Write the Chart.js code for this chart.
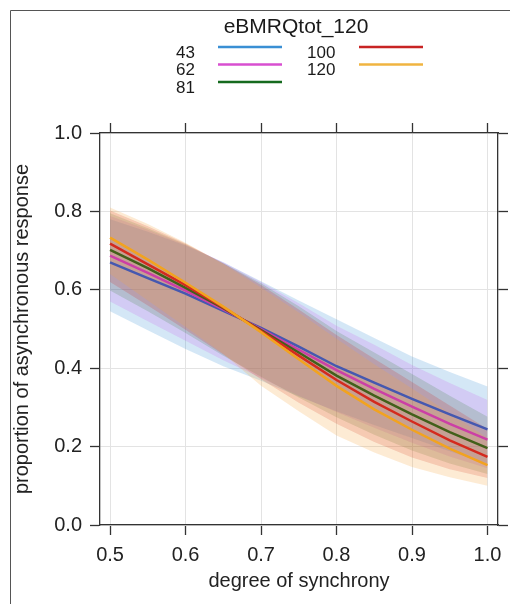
<!DOCTYPE html>
<html lang="en">
<head>
<meta charset="UTF-8">
<title>eBMRQtot_120 effect plot</title>
<script src="https://cdn.jsdelivr.net/npm/chart.js"></script>
<style>
  html, body { margin: 0; padding: 0; background: #fff; overflow: hidden; }
  #wrap { position: relative; width: 510px; height: 604px; }
</style>
</head>
<body>
<div id="wrap"><canvas id="effectChart" width="510" height="604"></canvas></div>
<script>
// degree of synchrony (x) and the fitted proportion for each eBMRQtot_120 level
const synchrony = [0.5, 0.55, 0.6, 0.65, 0.7, 0.75, 0.8, 0.85, 0.9, 0.95, 1.0];
const groups = ['43', '62', '81', '100', '120'];

const fit43 = [0.670, 0.630, 0.590, 0.546, 0.503, 0.455, 0.405, 0.363, 0.322, 0.282, 0.244];
const lo43  = [0.545, 0.497, 0.449, 0.405, 0.368, 0.328, 0.290, 0.255, 0.222, 0.188, 0.157];
const hi43  = [0.780, 0.748, 0.713, 0.670, 0.622, 0.573, 0.525, 0.477, 0.430, 0.390, 0.353];

const fit62 = [0.687, 0.643, 0.598, 0.550, 0.500, 0.447, 0.395, 0.347, 0.302, 0.258, 0.218];
const lo62  = [0.570, 0.520, 0.470, 0.420, 0.375, 0.330, 0.288, 0.248, 0.210, 0.175, 0.145];
const hi62  = [0.788, 0.753, 0.715, 0.670, 0.620, 0.566, 0.508, 0.460, 0.408, 0.362, 0.319];

const fit81 = [0.702, 0.655, 0.605, 0.553, 0.497, 0.440, 0.381, 0.330, 0.282, 0.237, 0.196];
const lo81  = [0.598, 0.545, 0.490, 0.432, 0.378, 0.325, 0.275, 0.230, 0.190, 0.157, 0.130];
const hi81  = [0.795, 0.757, 0.716, 0.668, 0.617, 0.558, 0.495, 0.440, 0.385, 0.330, 0.276];

const fit100 = [0.718, 0.665, 0.612, 0.555, 0.495, 0.432, 0.370, 0.314, 0.264, 0.216, 0.174];
const lo100  = [0.620, 0.560, 0.498, 0.435, 0.372, 0.312, 0.258, 0.212, 0.172, 0.142, 0.120];
const hi100  = [0.802, 0.762, 0.718, 0.668, 0.612, 0.550, 0.485, 0.424, 0.365, 0.305, 0.245];

const fit120 = [0.733, 0.677, 0.618, 0.557, 0.492, 0.423, 0.355, 0.295, 0.243, 0.195, 0.153];
const lo120  = [0.640, 0.573, 0.505, 0.437, 0.355, 0.290, 0.228, 0.185, 0.148, 0.122, 0.100];
const hi120  = [0.810, 0.768, 0.720, 0.666, 0.606, 0.542, 0.475, 0.410, 0.348, 0.285, 0.222];

const xTicks = [0.5, 0.6, 0.7, 0.8, 0.9, 1.0];
const yTicks = [0.0, 0.2, 0.4, 0.6, 0.8, 1.0];

const fits = [fit43, fit62, fit81, fit100, fit120];
const lows = [lo43, lo62, lo81, lo100, lo120];
const highs = [hi43, hi62, hi81, hi100, hi120];

// key colours, line colours as they show over the bands, band fills
const keyColors  = ['#3a8fd4', '#d84fd0', '#156a1e', '#c82323', '#f0b440'];
const lineColors = ['#4558b0', '#cc3fa6', '#42601a', '#d42a1e', '#f2a31f'];
const bandColors = ['rgba(58,144,212,0.22)', 'rgba(200,90,235,0.2)', 'rgba(40,120,40,0.18)',
                    'rgba(205,40,35,0.2)', 'rgba(245,165,60,0.22)'];

const FONT = '"Liberation Sans", Arial, sans-serif';

const toPoints = arr => synchrony.map((x, i) => ({ x: x, y: arr[i] }));

const datasets = [];
groups.forEach((g, i) => {
    datasets.push({
        label: g + ' lower',
        data: toPoints(lows[i]),
        borderWidth: 0,
        borderColor: 'rgba(0,0,0,0)',
        pointRadius: 0,
        fill: false,
        order: 20 - 2 * i
    });
    datasets.push({
        label: g + ' upper',
        data: toPoints(highs[i]),
        borderWidth: 0,
        borderColor: 'rgba(0,0,0,0)',
        backgroundColor: bandColors[i],
        pointRadius: 0,
        fill: '-1',
        order: 19 - 2 * i
    });
});
groups.forEach((g, i) => {
    datasets.push({
        label: g,
        data: toPoints(fits[i]),
        borderColor: lineColors[i],
        borderWidth: 2.5,
        pointRadius: 0,
        fill: false,
        tension: 0,
        order: -i
    });
});

// group key at the top and the outer frame
const groupKey = {
    id: 'groupKey',
    afterDraw(chart) {
        const ctx = chart.ctx;
        ctx.save();
        ctx.strokeStyle = '#555';
        ctx.lineWidth = 1;
        ctx.beginPath();
        ctx.moveTo(10.5, 604);
        ctx.lineTo(10.5, 10.5);
        ctx.lineTo(510, 10.5);
        ctx.stroke();

        ctx.fillStyle = '#1a1a1a';
        ctx.textAlign = 'center';
        ctx.textBaseline = 'alphabetic';
        ctx.font = '21px ' + FONT;
        ctx.fillText('eBMRQtot_120', 296, 33);

        ctx.font = '17px ' + FONT;
        ctx.textAlign = 'left';
        groups.forEach((g, i) => {
            const col = Math.floor(i / 3);
            const row = i % 3;
            const tx = col ? 307 : 176;
            const lx = col ? 359 : 218;
            ctx.fillStyle = '#1a1a1a';
            ctx.fillText(g, tx, 57.5 + row * 17.5);
            ctx.strokeStyle = keyColors[i];
            ctx.lineWidth = 2.5;
            ctx.beginPath();
            ctx.moveTo(lx, 47 + row * 17.5);
            ctx.lineTo(lx + 64, 47 + row * 17.5);
            ctx.stroke();
        });
        ctx.restore();
    }
};

const axisLine = { display: true, color: '#333', width: 1.3 };
const tickFont = { family: FONT, size: 20 };
const titleFont = { family: FONT, size: 20 };

const ctx = document.getElementById('effectChart').getContext('2d');
new Chart(ctx, {
    type: 'line',
    data: { datasets: datasets },
    plugins: [groupKey],
    options: {
        responsive: false,
        animation: false,
        devicePixelRatio: 1,
        layout: { padding: 0 },
        plugins: {
            legend: { display: false },
            tooltip: { enabled: false },
            filler: { propagate: false }
        },
        scales: {
            x: {
                type: 'linear',
                position: 'bottom',
                min: 0.4867,
                max: 1.0139,
                afterBuildTicks: s => { s.ticks = xTicks.map(v => ({ value: v })); },
                afterFit: s => { s.height = 79; },
                ticks: { callback: v => v.toFixed(1), font: tickFont, color: '#222', padding: 8, maxRotation: 0, autoSkip: false },
                grid: { color: '#e3e3e3', lineWidth: 1, tickLength: 10, tickColor: '#333', tickWidth: 1.3 },
                border: axisLine,
                title: { display: true, text: 'degree of synchrony', font: titleFont, color: '#222', padding: { top: 0, bottom: 11 } }
            },
            xTop: {
                type: 'linear',
                position: 'top',
                min: 0.4867,
                max: 1.0139,
                afterBuildTicks: s => { s.ticks = xTicks.map(v => ({ value: v })); },
                afterFit: s => { s.height = 133; },
                ticks: { display: false },
                grid: { drawOnChartArea: false, tickLength: 10, tickColor: '#333', tickWidth: 1.3 },
                border: axisLine
            },
            y: {
                type: 'linear',
                position: 'left',
                min: 0,
                max: 1,
                afterBuildTicks: s => { s.ticks = yTicks.map(v => ({ value: v })); },
                afterFit: s => { s.width = 100; },
                ticks: { callback: v => v.toFixed(1), font: tickFont, color: '#222', padding: 8 },
                grid: { color: '#e3e3e3', lineWidth: 1, tickLength: 10, tickColor: '#333', tickWidth: 1.3 },
                border: axisLine,
                title: { display: true, text: 'proportion of asynchronous response', font: titleFont, color: '#222', padding: { top: 10, bottom: 0 } }
            },
            yRight: {
                type: 'linear',
                position: 'right',
                min: 0,
                max: 1,
                afterBuildTicks: s => { s.ticks = yTicks.map(v => ({ value: v })); },
                afterFit: s => { s.width = 12; },
                ticks: { display: false },
                grid: { drawOnChartArea: false, tickLength: 10, tickColor: '#333', tickWidth: 1.3 },
                border: axisLine
            }
        }
    }
});
</script>
</body>
</html>
